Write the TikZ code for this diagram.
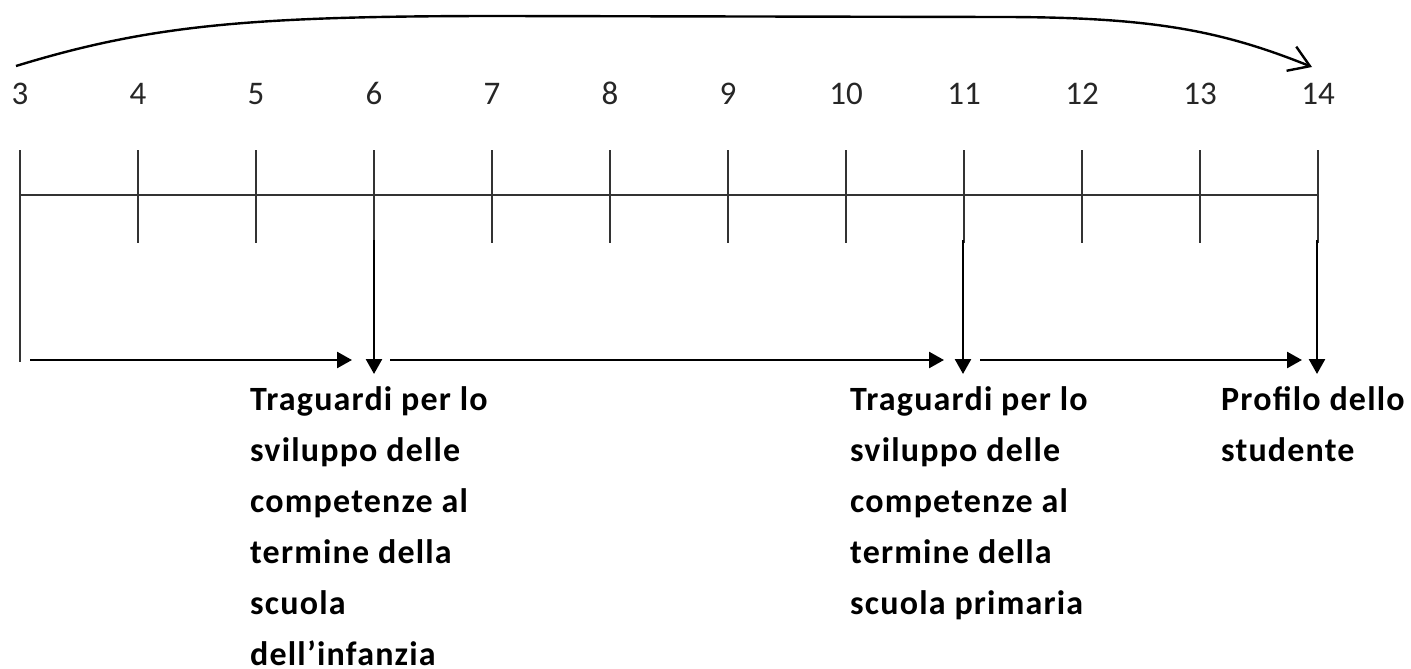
\documentclass[tikz,border=0pt]{standalone}
\usepackage{fontspec}
\setmainfont{Carlito}
\usetikzlibrary{arrows.meta}

\begin{document}
\begin{tikzpicture}[x=1pt,y=-1pt]

\tikzstyle{tick} = [draw, line width=1.3pt, black!80]
\tikzstyle{line} = [draw, line width=2.6pt, -{Triangle[length=15pt,width=16pt]}]
\tikzstyle{span} = [draw, line width=2.4pt, -{Straight Barb[length=20pt,width=26pt]}]
\tikzstyle{num} = [font=\fontsize{33}{38}\selectfont, anchor=base, inner sep=0pt, text=black!85]
\tikzstyle{goal} = [font=\fontsize{34}{51}\selectfont\bfseries\addfontfeature{LetterSpace=3.5}, align=left, anchor=north west, inner sep=0pt]

\useasboundingbox (0,0) rectangle (1411,669);

% ages and ticks
\foreach \v [count=\i from 0] in {3,...,14} {
  \node [num] (n\v) at (20+118*\i,104) {\v};
  \coordinate (t\v) at (20+118*\i,150);
  \coordinate (b\v) at (20+118*\i,243);
  \path [tick] (t\v) -- (b\v);
}
\coordinate (axl) at (20,195);
\coordinate (axr) at (1318,195);
\coordinate (s3) at (20,362);
\path [tick] (axl) -- (axr);
\path [tick] (b3) -- (s3);

% whole span
\coordinate (from) at (16,66);
\coordinate (to) at (1312,67);
\path [span] (from) .. controls (150,25) and (250,16) .. (500,16) -- (1000,17)
  .. controls (1150,17) and (1220,30) .. (to);

% goals
\node [goal] (g6) at (250,386) {Traguardi per lo\\sviluppo delle\\competenze al\\termine della\\scuola\\dell'infanzia};
\node [goal] (g11) at (850,386) {Traguardi per lo\\sviluppo delle\\competenze al\\termine della\\scuola primaria};
\node [goal] (g14) at (1221,386) {Profilo dello\\studente};

%arrows
\coordinate (d6) at (374,240);   \coordinate (e6) at (374,374);
\coordinate (d11) at (963,240);  \coordinate (e11) at (963,374);
\coordinate (d14) at (1317,240); \coordinate (e14) at (1317,374);
\path [line] (d6) -- (e6);
\path [line] (d11) -- (e11);
\path [line] (d14) -- (e14);

\coordinate (h1) at (30,360);  \coordinate (k1) at (352,360);
\coordinate (h2) at (390,360); \coordinate (k2) at (944,360);
\coordinate (h3) at (980,360); \coordinate (k3) at (1302,360);
\path [line] (h1) -- (k1);
\path [line] (h2) -- (k2);
\path [line] (h3) -- (k3);
\end{tikzpicture}
\end{document}
